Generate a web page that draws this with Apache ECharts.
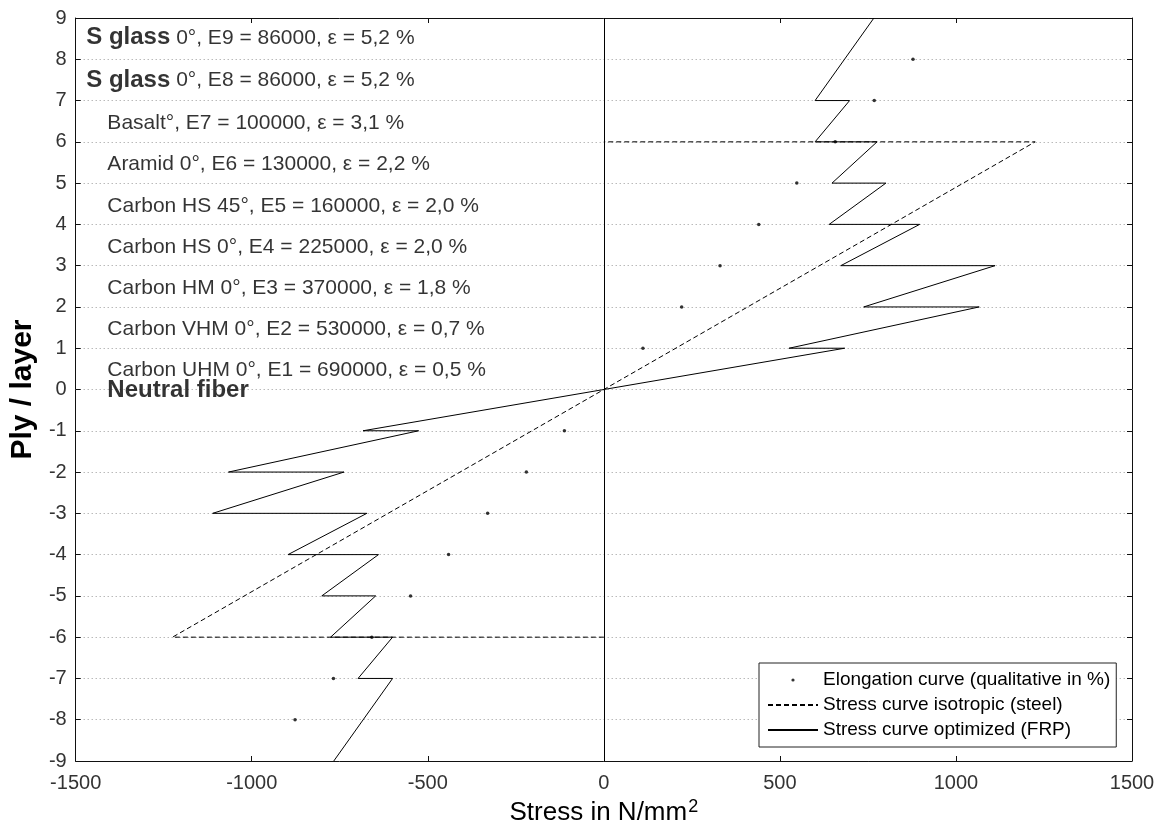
<!DOCTYPE html>
<html>
<head>
<meta charset="utf-8">
<script src="https://cdn.jsdelivr.net/npm/echarts@6/dist/echarts.min.js"></script>
<style>
  html, body { margin: 0; padding: 0; background: #fff; }
  #chart { width: 1164px; height: 831px; }
</style>
</head>
<body>
<div id="chart"></div>
<script>
// ---- data ----
const xTicks = [-1500, -1000, -500, 0, 500, 1000, 1500];
const yTicks = [-9, -8, -7, -6, -5, -4, -3, -2, -1, 0, 1, 2, 3, 4, 5, 6, 7, 8, 9];

// Elongation curve (qualitative in %)
const elongStress = [-877, -768, -659, -549, -441, -330, -220, -112, 111, 221, 330, 440, 548, 657, 768, 878];
const elongLayer  = [-8, -7, -6, -5, -4, -3, -2, -1, 1, 2, 3, 4, 5, 6, 7, 8];

// Stress curve isotropic (steel)
const steelStress = [0, -1225, 1225, 0];
const steelLayer  = [-6, -6, 6, 6];

// Stress curve optimized (FRP)
const frpStress = [-767, -600, -698, -600, -776, -648, -801, -640, -897, -673, -1111, -738, -1066, -526, -684, 0,
                   684, 526, 1066, 738, 1111, 673, 897, 640, 801, 648, 776, 600, 698, 600, 767];
const frpLayer  = [-9, -7, -7, -6, -6, -5, -5, -4, -4, -3, -3, -2, -2, -1, -1, 0,
                   1, 1, 2, 2, 3, 3, 4, 4, 5, 5, 6, 6, 7, 7, 9];

// Ply annotations
const plyBold   = ['S glass', 'S glass', '', '', '', '', '', '', '', ''];
const plyText   = [
  ' 0°, E9 = 86000, ε = 5,2 %',
  ' 0°, E8 = 86000, ε = 5,2 %',
  'Basalt°, E7 = 100000, ε = 3,1 %',
  'Aramid 0°, E6 = 130000, ε = 2,2 %',
  'Carbon HS 45°, E5 = 160000, ε = 2,0 %',
  'Carbon HS 0°, E4 = 225000, ε = 2,0 %',
  'Carbon HM 0°, E3 = 370000, ε = 1,8 %',
  'Carbon VHM 0°, E2 = 530000, ε = 0,7 %',
  'Carbon UHM 0°, E1 = 690000, ε = 0,5 %',
  ''
];
const plyTitle  = ['', '', '', '', '', '', '', '', '', 'Neutral fiber'];
const plyLayer  = [8.52, 7.5, 6.45, 5.45, 4.45, 3.45, 2.45, 1.45, 0.47, -0.02];
const plyStress = [-1470, -1470, -1410, -1410, -1410, -1410, -1410, -1410, -1410, -1410];

const legendNames = ['Elongation curve (qualitative in %)', 'Stress curve isotropic (steel)', 'Stress curve optimized (FRP)'];

// ---- build ----
const pairs = (xs, ys) => xs.map((x, i) => [x, ys[i]]);
const FONT = '"Liberation Sans", Arial, sans-serif';

const annData = plyStress.map((x, i) => ({
  value: [x, plyLayer[i]],
  label: {
    formatter: (plyBold[i] ? '{b|' + plyBold[i] + '}' : '') +
               (plyText[i] ? '{n|' + plyText[i] + '}' : '') +
               (plyTitle[i] ? '{h|' + plyTitle[i] + '}' : '')
  }
}));

const chart = echarts.init(document.getElementById('chart'), null, { renderer: 'canvas' });

const axisLineStyle = { color: '#111', width: 1 };
const plainNum = v => String(v);

chart.setOption({
  animation: false,
  backgroundColor: '#fff',
  textStyle: { fontFamily: FONT },
  grid: { left: 71, right: 32, top: 18, bottom: 70, containLabel: false },
  xAxis: [
    {
      type: 'value', min: xTicks[0], max: xTicks[xTicks.length - 1], interval: 500,
      position: 'bottom',
      name: '{a|Stress in N/mm}{s|2}',
      nameLocation: 'middle', nameGap: 34,
      nameTextStyle: {
        color: '#000', fontFamily: FONT,
        rich: {
          a: { fontSize: 26, color: '#000', fontFamily: FONT },
          s: { fontSize: 18, color: '#000', fontFamily: FONT, verticalAlign: 'top', padding: [0, 0, 12, 1] }
        }
      },
      axisLine: { show: true, onZero: false, lineStyle: axisLineStyle },
      axisTick: { show: true, inside: true, length: 5, lineStyle: axisLineStyle },
      axisLabel: { color: '#333', fontSize: 20, fontFamily: FONT, margin: 12, formatter: plainNum },
      splitLine: { show: false }
    },
    {
      type: 'value', min: xTicks[0], max: xTicks[xTicks.length - 1], interval: 500,
      position: 'top',
      axisLine: { show: true, onZero: false, lineStyle: axisLineStyle },
      axisTick: { show: true, inside: true, length: 5, lineStyle: axisLineStyle },
      axisLabel: { show: false },
      splitLine: { show: false }
    }
  ],
  yAxis: [
    {
      type: 'value', min: yTicks[0], max: yTicks[yTicks.length - 1], interval: 1,
      position: 'left',
      name: 'Ply / layer', nameLocation: 'middle', nameGap: 32,
      nameTextStyle: { color: '#000', fontSize: 30, fontWeight: 'bold', fontFamily: FONT },
      axisLine: { show: true, onZero: false, lineStyle: axisLineStyle },
      axisTick: { show: true, inside: true, length: 5, lineStyle: axisLineStyle },
      axisLabel: { color: '#333', fontSize: 20, fontFamily: FONT, margin: 9, formatter: plainNum },
      splitLine: { show: true, lineStyle: { color: '#999', type: [1, 3], width: 1 } }
    },
    {
      type: 'value', min: yTicks[0], max: yTicks[yTicks.length - 1], interval: 1,
      position: 'right',
      axisLine: { show: true, onZero: false, lineStyle: axisLineStyle },
      axisTick: { show: true, inside: true, length: 5, lineStyle: axisLineStyle },
      axisLabel: { show: false },
      splitLine: { show: false }
    }
  ],
  legend: {
    orient: 'vertical',
    left: 759, top: 663,
    padding: [7, 6, 7, 8],
    itemGap: 5,
    itemWidth: 50, itemHeight: 14,
    backgroundColor: '#fff',
    borderColor: '#222', borderWidth: 1,
    textStyle: { color: '#000', fontSize: 19, fontFamily: FONT, lineHeight: 20 },
    data: [
      { name: legendNames[0], icon: 'path://M-25,-7 M25,7 M-1.6,0 A1.6,1.6 0 1,0 1.6,0 A1.6,1.6 0 1,0 -1.6,0 Z' },
      { name: legendNames[1], itemStyle: { opacity: 0 } },
      { name: legendNames[2], itemStyle: { opacity: 0 } }
    ]
  },
  series: [
    {
      name: legendNames[2],
      type: 'line',
      data: pairs(frpStress, frpLayer),
      symbol: 'none', showSymbol: false,
      lineStyle: { color: '#000', width: 1, type: 'solid' },
      itemStyle: { color: '#000' },
      z: 4,
      markLine: {
        silent: true, symbol: 'none', animation: false,
        label: { show: false },
        lineStyle: { color: '#000', width: 1, type: 'solid' },
        data: [{ xAxis: 0 }]
      }
    },
    {
      name: legendNames[1],
      type: 'line',
      data: pairs(steelStress, steelLayer),
      symbol: 'none', showSymbol: false,
      lineStyle: { color: '#000', width: 1, type: [5, 3] },
      itemStyle: { color: '#000' },
      z: 3
    },
    {
      name: legendNames[0],
      type: 'scatter',
      data: pairs(elongStress, elongLayer),
      symbol: 'circle', symbolSize: 3.5,
      itemStyle: { color: '#000' },
      z: 5
    },
    {
      name: 'annotations',
      type: 'scatter',
      data: annData,
      symbolSize: 0,
      silent: true,
      z: 6,
      label: {
        show: true, position: 'right', distance: 0,
        color: '#000', fontFamily: FONT,
        rich: {
          b: { fontSize: 24, fontWeight: 'bold', color: '#000', fontFamily: FONT },
          n: { fontSize: 21, color: '#000', fontFamily: FONT },
          h: { fontSize: 24, fontWeight: 'bold', color: '#000', fontFamily: FONT }
        }
      }
    }
  ]
});
</script>
</body>
</html>
